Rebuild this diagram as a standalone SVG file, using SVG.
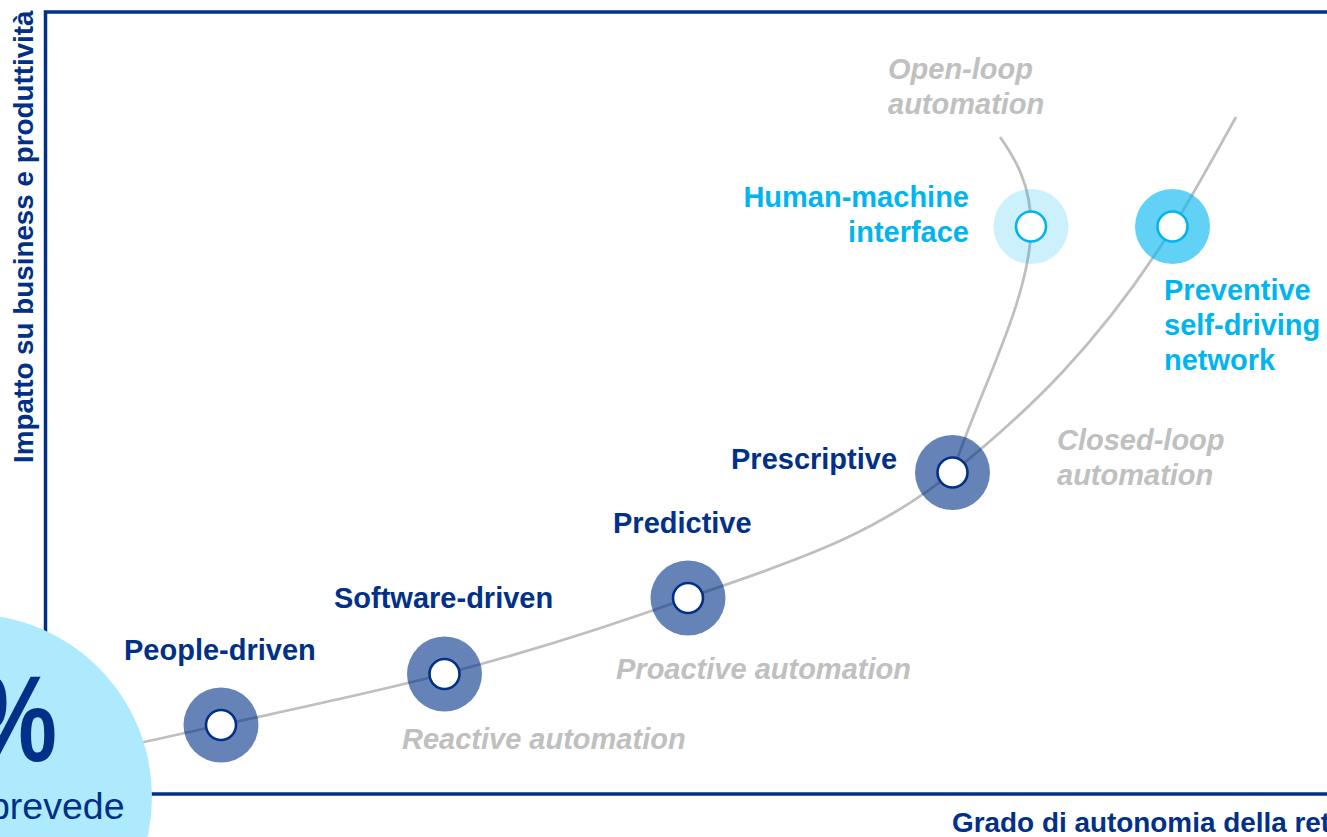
<svg xmlns="http://www.w3.org/2000/svg" width="1327" height="837" viewBox="0 0 1327 837">
  <style>
    .axis { stroke: #003087; stroke-width: 3.5; fill: none; }
    .curve { stroke: #bfbfbf; stroke-width: 2.8; fill: none; }
    .halo { fill: #003087; fill-opacity: 0.6; }
    .halo-soft { fill: #00b5ef; fill-opacity: 0.2; }
    .halo-strong { fill: #00b5ef; fill-opacity: 0.62; }
    .core { fill: #ffffff; stroke: #003087; stroke-width: 2.6; }
    .core-cyan { fill: #ffffff; stroke: #00b5ef; stroke-width: 2.6; }
    text { font-family: "Liberation Sans", Arial, sans-serif; }
    .lbl { font-size: 29px; font-weight: bold; fill: #003087; }
    .lbl-cyan { font-size: 29px; font-weight: bold; fill: #00b5ef; }
    .phase { font-size: 29px; font-weight: bold; font-style: italic; fill: #c0c0c0; }
    .axis-lbl { font-weight: bold; fill: #003087; }
  </style>

  <rect x="0" y="0" width="1327" height="837" fill="#ffffff"/>

  <!-- chart frame -->
  <g id="axes">
    <path class="axis" d="M45.5,794 V12 H1327"/>
    <path class="axis" d="M45.5,794 H1327"/>
    <text class="axis-lbl" font-size="27.8" transform="translate(32.5,463) rotate(-90)">Impatto su business e produttività</text>
    <text class="axis-lbl" font-size="27.9" x="952" y="832">Grado di autonomia della rete</text>
  </g>

  <!-- evolution curves -->
  <g id="connectors">
    <path id="main-curve" class="curve" d="M90,754 C133.7,744.4 177.3,734.6 221,725 C295.3,708.7 369.7,693.3 444,674 C525.3,652.9 606.7,627.3 688,598 C776.3,566.2 864.7,542.6 953,472 C1026.3,413.3 1099.7,344.3 1173,227 C1194,193.4 1215,154.8 1236,117"/>
    <path id="open-loop-curve" class="curve" d="M953,472 C975,400 1031,300 1031,226 C1031,185 1015,158 1000,137"/>
  </g>

  <!-- stages -->
  <g id="people-driven">
    <circle class="halo" cx="221" cy="725" r="37.5"/>
    <circle class="core" cx="221" cy="725" r="15"/>
    <text class="lbl" x="124" y="660">People-driven</text>
  </g>
  <g id="software-driven">
    <circle class="halo" cx="444.5" cy="674" r="37.5"/>
    <circle class="core" cx="444.5" cy="674" r="15"/>
    <text class="lbl" x="334" y="608">Software-driven</text>
  </g>
  <g id="predictive">
    <circle class="halo" cx="688" cy="598" r="37.5"/>
    <circle class="core" cx="688" cy="598" r="15"/>
    <text class="lbl" x="613" y="533">Predictive</text>
  </g>
  <g id="prescriptive">
    <circle class="halo" cx="952.5" cy="472.5" r="37.5"/>
    <circle class="core" cx="952.5" cy="472.5" r="15"/>
    <text class="lbl" x="731" y="469">Prescriptive</text>
  </g>
  <g id="human-machine-interface">
    <circle class="halo-soft" cx="1031" cy="226.5" r="37.5"/>
    <circle class="core-cyan" cx="1031" cy="226.5" r="15"/>
    <text class="lbl-cyan" text-anchor="end" x="969" y="207">Human-machine</text>
    <text class="lbl-cyan" text-anchor="end" x="969" y="242">interface</text>
  </g>
  <g id="preventive-self-driving-network">
    <circle class="halo-strong" cx="1172.5" cy="226.5" r="37.5"/>
    <circle class="core-cyan" cx="1172.5" cy="226.5" r="15"/>
    <text class="lbl-cyan" x="1164" y="300">Preventive</text>
    <text class="lbl-cyan" x="1164" y="335">self-driving</text>
    <text class="lbl-cyan" x="1164" y="370">network</text>
  </g>

  <!-- automation phases -->
  <g id="phases">
    <text class="phase" x="402" y="749">Reactive automation</text>
    <text class="phase" x="616" y="679">Proactive automation</text>
    <text class="phase" x="1057" y="450">Closed-loop</text>
    <text class="phase" x="1057" y="485">automation</text>
    <text class="phase" x="888" y="78.5">Open-loop</text>
    <text class="phase" x="888" y="113.5">automation</text>
  </g>

  <!-- highlight badge -->
  <g id="badge">
    <circle cx="-31" cy="797" r="183" fill="#aeeafd"/>
    <text transform="translate(57,761) scale(0.8,1)" text-anchor="end" font-size="122" font-weight="bold" fill="#003087">%</text>
    <text x="124.5" y="819" text-anchor="end" font-size="37.5" fill="#003087">prevede</text>
  </g>
</svg>
